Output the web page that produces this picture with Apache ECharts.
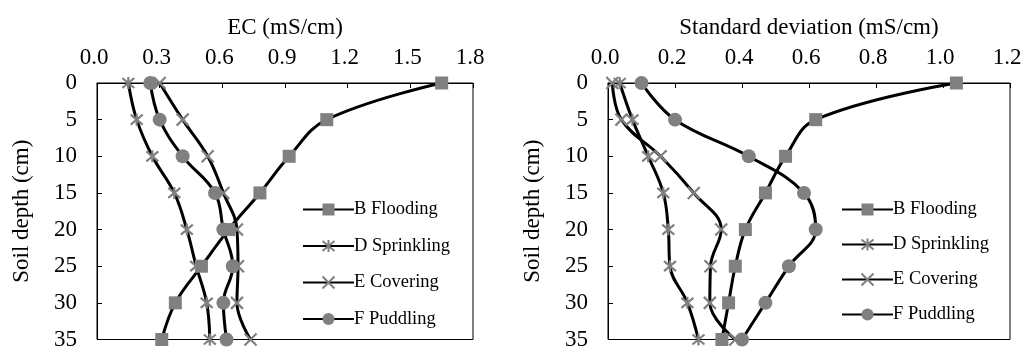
<!DOCTYPE html>
<html>
<head>
<meta charset="utf-8">
<script src="https://cdn.jsdelivr.net/npm/echarts@6/dist/echarts.min.js"></script>
<style>
    html, body { margin: 0; padding: 0; background: #fff; }
    #chart { width: 1027px; height: 351px; }
</style>
</head>
<body>
<div id="chart"></div>
<script>
// soil depth (cm)
var depth = [0, 5, 10, 15, 20, 25, 30, 35];

// EC (mS/cm)
var ecFlooding = [1.65, 1.10, 0.92, 0.78, 0.63, 0.50, 0.375, 0.31];
var ecSprinkling = [0.15, 0.19, 0.265, 0.37, 0.43, 0.475, 0.525, 0.54];
var ecCovering = [0.30, 0.41, 0.53, 0.605, 0.67, 0.675, 0.67, 0.735];
var ecPuddling = [0.255, 0.30, 0.41, 0.565, 0.605, 0.65, 0.605, 0.62];

// standard deviation (mS/cm)
var sdFlooding = [1.04, 0.62, 0.53, 0.47, 0.41, 0.38, 0.36, 0.34];
var sdSprinkling = [0.035, 0.073, 0.12, 0.165, 0.18, 0.185, 0.237, 0.27];
var sdCovering = [0.013, 0.04, 0.157, 0.256, 0.338, 0.306, 0.304, 0.38];
var sdPuddling = [0.10, 0.20, 0.42, 0.585, 0.62, 0.54, 0.47, 0.40];

var names = ['B Flooding', 'D Sprinkling', 'E Covering', 'F Puddling'];

var font = 'Liberation Serif';
var grey = '#808080';
var symAsterisk = 'path://M0,0L10,10M10,0L0,10M5,-1L5,11';
var symCross = 'path://M0,0L10,10M10,0L0,10';

function pairs(xs) {
    var out = [];
    for (var i = 0; i < xs.length; i++) {
        out.push([xs[i], depth[i]]);
    }
    return out;
}

function makeSeries(name, values, idx, symbol, size) {
    return {
        name: name,
        type: 'line',
        xAxisIndex: idx,
        yAxisIndex: idx,
        data: pairs(values),
        smooth: 0.4,
        clip: false,
        symbol: symbol,
        symbolSize: size,
        showAllSymbol: true,
        lineStyle: { color: '#000', width: 3 },
        itemStyle: { color: grey, borderColor: grey, borderWidth: symbol.indexOf('path') === 0 ? 2.2 : 0, opacity: 1 },
        emphasis: { disabled: true },
        z: 2
    };
}

function xAxisOf(idx, name, max, interval) {
    return {
        type: 'value',
        gridIndex: idx,
        position: 'top',
        min: 0,
        max: max,
        interval: interval,
        name: name,
        nameLocation: 'middle',
        nameGap: 44,
        nameTextStyle: { fontFamily: font, fontSize: 23, color: '#000' },
        axisLine: { show: true, lineStyle: { color: '#000', width: 1 } },
        axisTick: { show: true, inside: true, length: 5, lineStyle: { color: '#000' } },
        axisLabel: {
            fontFamily: font, fontSize: 23, color: '#000', margin: 14, padding: [0, 6, 0, 0],
            formatter: function (v) { return v.toFixed(1); }
        },
        splitLine: { show: false }
    };
}

function yAxisOf(idx) {
    return {
        type: 'value',
        gridIndex: idx,
        inverse: true,
        min: 0,
        max: 35,
        interval: 5,
        name: 'Soil depth (cm)',
        nameLocation: 'middle',
        nameGap: 64,
        nameTextStyle: { fontFamily: font, fontSize: 23, color: '#000' },
        axisLine: { show: true, lineStyle: { color: '#000', width: 1 } },
        axisTick: { show: true, inside: true, length: 5, lineStyle: { color: '#000' } },
        axisLabel: { fontFamily: font, fontSize: 23, color: '#000', margin: 20 },
        splitLine: { show: false }
    };
}

function legendOf(left, gap) {
    return {
        orient: 'vertical',
        left: left,
        top: 195,
        itemWidth: 51,
        itemHeight: 15,
        itemGap: gap,
        data: names,
        textStyle: { fontFamily: font, fontSize: 18.5, color: '#000', lineHeight: 19, padding: [0, 0, 0, -5] },
        selectedMode: false
    };
}

var myChart = echarts.init(document.getElementById('chart'));

var option = {
    animation: false,
    backgroundColor: '#fff',
    grid: [
        { left: 97, right: 554, top: 83, bottom: 8, show: true, borderColor: '#000', borderWidth: 1, backgroundColor: 'transparent' },
        { left: 608, right: 17, top: 83, bottom: 8, show: true, borderColor: '#000', borderWidth: 1, backgroundColor: 'transparent' }
    ],
    legend: [legendOf(297, 17.5), legendOf(836, 16)],
    xAxis: [
        xAxisOf(0, 'EC (mS/cm)', 1.8, 0.3),
        xAxisOf(1, 'Standard deviation (mS/cm)', 1.2, 0.2)
    ],
    yAxis: [yAxisOf(0), yAxisOf(1)],
    series: [
        makeSeries(names[0], ecFlooding, 0, 'rect', 13),
        makeSeries(names[1], ecSprinkling, 0, symAsterisk, 12),
        makeSeries(names[2], ecCovering, 0, symCross, 12),
        makeSeries(names[3], ecPuddling, 0, 'circle', 14),
        makeSeries(names[0], sdFlooding, 1, 'rect', 13),
        makeSeries(names[1], sdSprinkling, 1, symAsterisk, 12),
        makeSeries(names[2], sdCovering, 1, symCross, 12),
        makeSeries(names[3], sdPuddling, 1, 'circle', 14)
    ]
};

myChart.setOption(option, true);
</script>
</body>
</html>
